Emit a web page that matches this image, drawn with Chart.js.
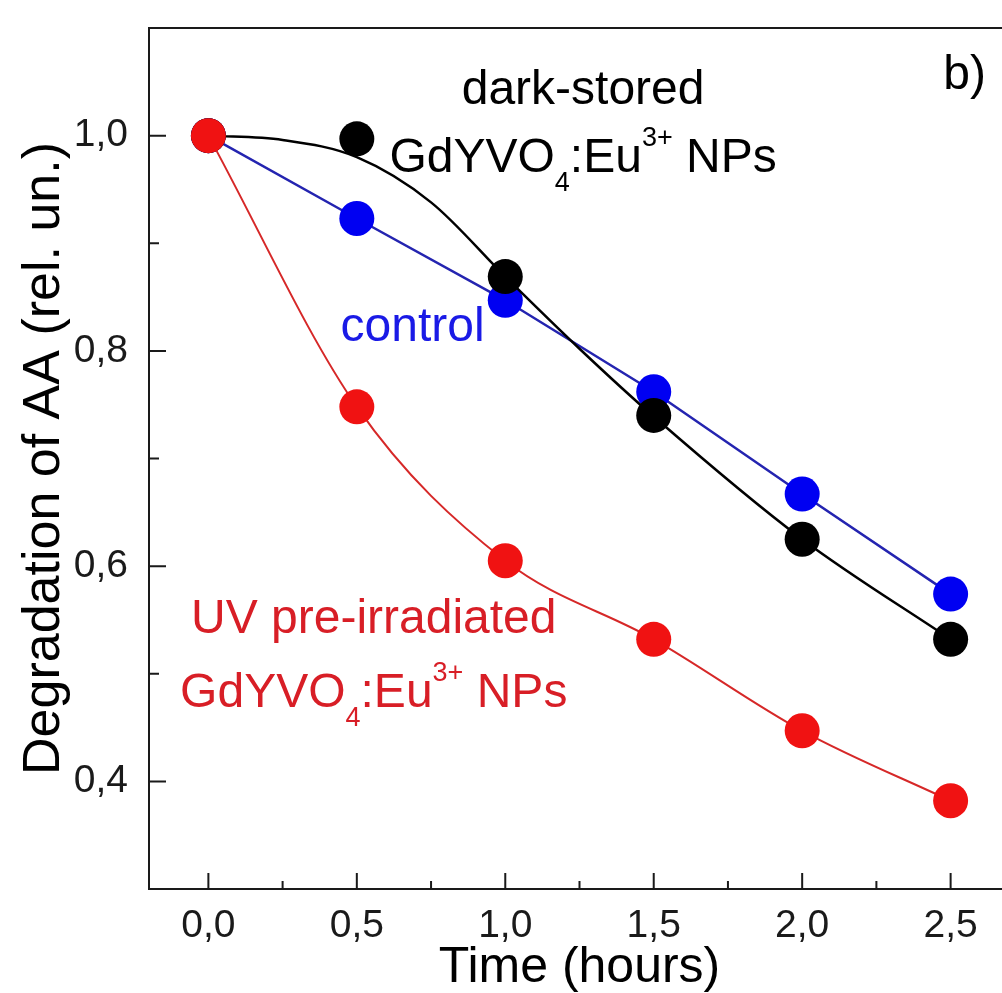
<!DOCTYPE html>
<html>
<head>
<meta charset="utf-8">
<script src="https://cdn.jsdelivr.net/npm/chart.js@4.4.0/dist/chart.umd.min.js"></script>
<style>
  html, body { margin: 0; padding: 0; background: #fff; overflow: hidden; }
  #wrap { width: 1030px; height: 993px; }
</style>
</head>
<body>
<div id="wrap"><canvas id="chart" width="1030" height="993"></canvas></div>
<script>
// values
const timeHours = [0, 0.5, 1.0, 1.5, 2.0, 2.5];
const uvValues = [1.0, 0.748, 0.605, 0.532, 0.447, 0.382];
const darkValues = [1.0, 0.997, 0.869, 0.740, 0.625, 0.532];
const controlValues = [1.0, 0.923, 0.847, 0.762, 0.667, 0.574];

// smooth curve drawn through the dark-stored data
const darkFitTime = [0, 0.25, 0.5, 0.75, 1.0, 1.25, 1.5, 2.0, 2.5];
const darkFitValues = [1.0, 0.996, 0.980, 0.938, 0.869, 0.802, 0.739, 0.625, 0.532];

const xTicks = [0, 0.5, 1.0, 1.5, 2.0, 2.5];
const xMinorTicks = [0.25, 0.75, 1.25, 1.75, 2.25];
const yTicks = [0.4, 0.6, 0.8, 1.0];
const yMinorTicks = [0.5, 0.7, 0.9];

const FONT = '"Liberation Sans", Arial, Helvetica, sans-serif';

const formula = [["GdYVO", "n"], ["4", "sub"], [":Eu", "n"], ["3+", "sup"], [" NPs", "n"]];

// text labels, anchored at (centre x, baseline y) in data units
const notes = [
  { parts: [["dark-stored", "n"]], x: 1.262, y: 1.0295, color: "#000" },
  { parts: formula, x: 1.262, y: 0.966, color: "#000" },
  { parts: [["control", "n"]], x: 0.688, y: 0.809, color: "#1a1ae6" },
  { parts: [["UV pre-irradiated", "n"]], x: 0.557, y: 0.538, color: "#d81e26" },
  { parts: formula, x: 0.557, y: 0.469, color: "#d81e26" },
  { parts: [["b)", "n"]], x: 2.547, y: 1.043, color: "#000" }
];

const pts = (xs, ys) => xs.map((x, i) => ({ x: x, y: ys[i] }));
const fmt = v => Number(v).toFixed(1).replace(".", ",");

function drawRich(ctx, parts, cx, baseY, color) {
  const big = "48px " + FONT, small = "27px " + FONT;
  let w = 0;
  parts.forEach(p => { ctx.font = p[1] === "n" ? big : small; w += ctx.measureText(p[0]).width; });
  let x = cx - w / 2;
  ctx.fillStyle = color;
  ctx.textAlign = "left";
  ctx.textBaseline = "alphabetic";
  parts.forEach(p => {
    ctx.font = p[1] === "n" ? big : small;
    const dy = p[1] === "sub" ? 19 : (p[1] === "sup" ? -26 : 0);
    ctx.fillText(p[0], x, baseY + dy);
    x += ctx.measureText(p[0]).width;
  });
}

const framePlugin = {
  id: "frame",
  afterDraw(chart) {
    const { ctx, chartArea: a, scales } = chart;
    ctx.save();
    ctx.strokeStyle = "#1a1a1a";
    ctx.lineWidth = 2;
    ctx.strokeRect(a.left, a.top, a.right - a.left, a.bottom - a.top);
    ctx.beginPath();
    xTicks.forEach(v => { const p = scales.x.getPixelForValue(v); ctx.moveTo(p, a.bottom); ctx.lineTo(p, a.bottom - 16); });
    xMinorTicks.forEach(v => { const p = scales.x.getPixelForValue(v); ctx.moveTo(p, a.bottom); ctx.lineTo(p, a.bottom - 8); });
    yTicks.forEach(v => { const p = scales.y.getPixelForValue(v); ctx.moveTo(a.left, p); ctx.lineTo(a.left + 17, p); });
    yMinorTicks.forEach(v => { const p = scales.y.getPixelForValue(v); ctx.moveTo(a.left, p); ctx.lineTo(a.left + 10, p); });
    ctx.stroke();

    notes.forEach(n => {
      drawRich(ctx, n.parts, scales.x.getPixelForValue(n.x), scales.y.getPixelForValue(n.y), n.color);
    });
    ctx.restore();
  }
};

new Chart(document.getElementById("chart"), {
  type: "line",
  data: {
    datasets: [
      {
        label: "UV pre-irradiated",
        data: pts(timeHours, uvValues),
        borderColor: "#d62828",
        borderWidth: 2,
        backgroundColor: "#f01212",
        pointBackgroundColor: "#f01212",
        pointRadius: 17.5,
        pointBorderWidth: 0,
        cubicInterpolationMode: "monotone"
      },
      {
        label: "dark-stored",
        data: pts(timeHours, darkValues),
        showLine: false,
        pointBackgroundColor: "#000",
        pointRadius: 17.5,
        pointBorderWidth: 0
      },
      {
        label: "dark-stored curve",
        data: pts(darkFitTime, darkFitValues),
        borderColor: "#000",
        borderWidth: 2.5,
        pointRadius: 0,
        cubicInterpolationMode: "monotone"
      },
      {
        label: "control",
        data: pts(timeHours, controlValues),
        borderColor: "#2424b0",
        borderWidth: 2.5,
        pointBackgroundColor: "#0000f2",
        pointRadius: 17.5,
        pointBorderWidth: 0,
        tension: 0
      }
    ]
  },
  options: {
    responsive: false,
    animation: false,
    events: [],
    layout: { padding: { top: 28, right: 20, left: 0, bottom: 0 } },
    plugins: { legend: { display: false }, tooltip: { enabled: false } },
    scales: {
      x: {
        type: "linear",
        min: -0.2,
        max: 2.7,
        afterBuildTicks: s => { s.ticks = xTicks.map(v => ({ value: v })); },
        afterFit: s => { s.height = 104; s.paddingLeft = 0; s.paddingRight = 0; },
        grid: { display: false, drawTicks: false },
        border: { display: false },
        ticks: {
          autoSkip: false, maxRotation: 0, padding: 14, color: "#1a1a1a",
          font: { family: FONT, size: 39 },
          callback: v => fmt(v)
        },
        title: {
          display: true, text: "Time (hours)", color: "#000",
          font: { family: FONT, size: 50, lineHeight: 1 },
          padding: 0
        }
      },
      y: {
        min: 0.3,
        max: 1.1,
        afterBuildTicks: s => { s.ticks = yTicks.map(v => ({ value: v })); },
        afterFit: s => { s.width = 149; s.paddingTop = 0; s.paddingBottom = 0; },
        grid: { display: false, drawTicks: false },
        border: { display: false },
        ticks: {
          autoSkip: false, padding: 21, color: "#1a1a1a",
          font: { family: FONT, size: 39 },
          callback: v => fmt(v)
        },
        title: {
          display: true, text: "Degradation of AA (rel. un.)", color: "#000",
          font: { family: FONT, size: 52, lineHeight: 1.2 },
          padding: { top: 13, bottom: 0 }
        }
      }
    }
  },
  plugins: [framePlugin]
});
</script>
</body>
</html>
